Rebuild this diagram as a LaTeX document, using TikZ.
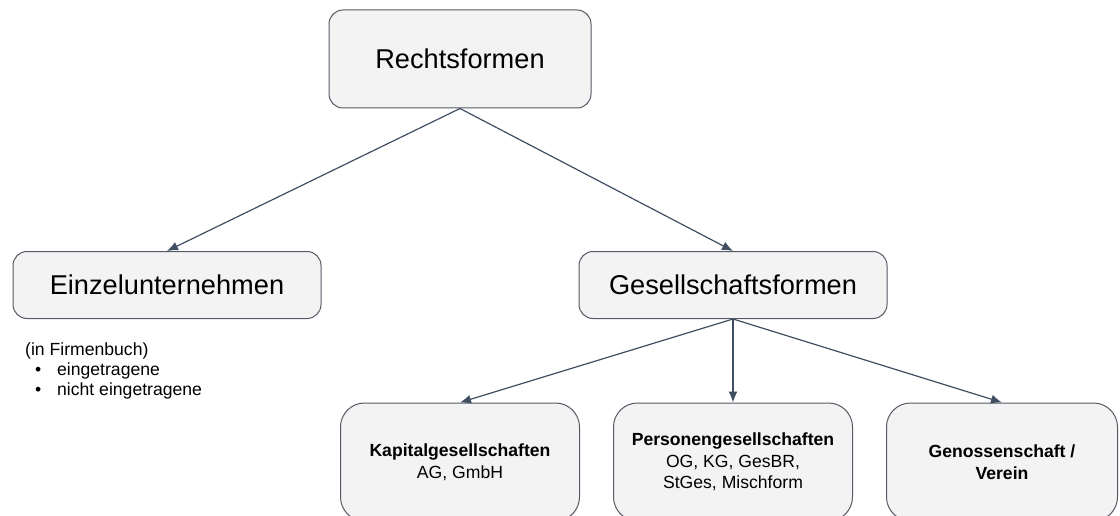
\documentclass[tikz,border=0pt]{standalone}
\usepackage{fontspec}
\setmainfont{Liberation Sans}
\usetikzlibrary{arrows.meta}
\definecolor{boxgray}{RGB}{243,243,243}
\definecolor{edgegray}{RGB}{85,90,100}
\definecolor{arrowblue}{RGB}{64,78,98}

\begin{document}
\begin{tikzpicture}[x=1pt,y=-1pt,
    form/.style={draw=edgegray,fill=boxgray,line width=1pt,rounded corners=14pt,inner sep=0pt,align=center},
    big/.style={form,font=\fontsize{27.2}{32}\selectfont},
    small/.style={form,rounded corners=24pt,minimum width=239pt,minimum height=118pt,font=\fontsize{17.6}{21.5}\selectfont},
    listtext/.style={anchor=base west,inner sep=0pt,font=\fontsize{17.6}{20}\selectfont},
    link/.style={draw=arrowblue,line width=1.2pt,-{Latex[length=11pt,width=9pt]}}]
\useasboundingbox (0,0) rectangle (1120,516);
\node[big,minimum width=262pt,minimum height=98pt] (rf) at (460,59) {Rechtsformen};
\node[big,minimum width=308pt,minimum height=67pt] (ez) at (167,285) {Einzelunternehmen};
\node[big,minimum width=308pt,minimum height=67pt] (gf) at (733,285) {Gesellschaftsformen};
\node[small] (kg) at (460,462) {\textbf{Kapitalgesellschaften}\\AG, GmbH};
\node[small] (pg) at (733,462) {\textbf{Personengesellschaften}\\OG, KG, GesBR,\\StGes, Mischform};
\node[small,minimum width=231pt] (gv) at (1002,462) {\textbf{Genossenschaft /}\\\textbf{Verein}};
% Liste unter Einzelunternehmen
\node[listtext] (fb) at (25,355) {(in Firmenbuch)};
\node[listtext] (fb1) at (35,375) {\makebox[22pt][l]{\textbullet}eingetragene};
\node[listtext] (fb2) at (35,395) {\makebox[22pt][l]{\textbullet}nicht eingetragene};
\draw[link] (rf.south) -- (ez.north);
\draw[link] (rf.south) -- (gf.north);
\draw[link] (gf.south) -- (kg.north);
\draw[link] (gf.south) -- (pg.north);
\draw[link] (gf.south) -- (gv.north);
\end{tikzpicture}
\end{document}
